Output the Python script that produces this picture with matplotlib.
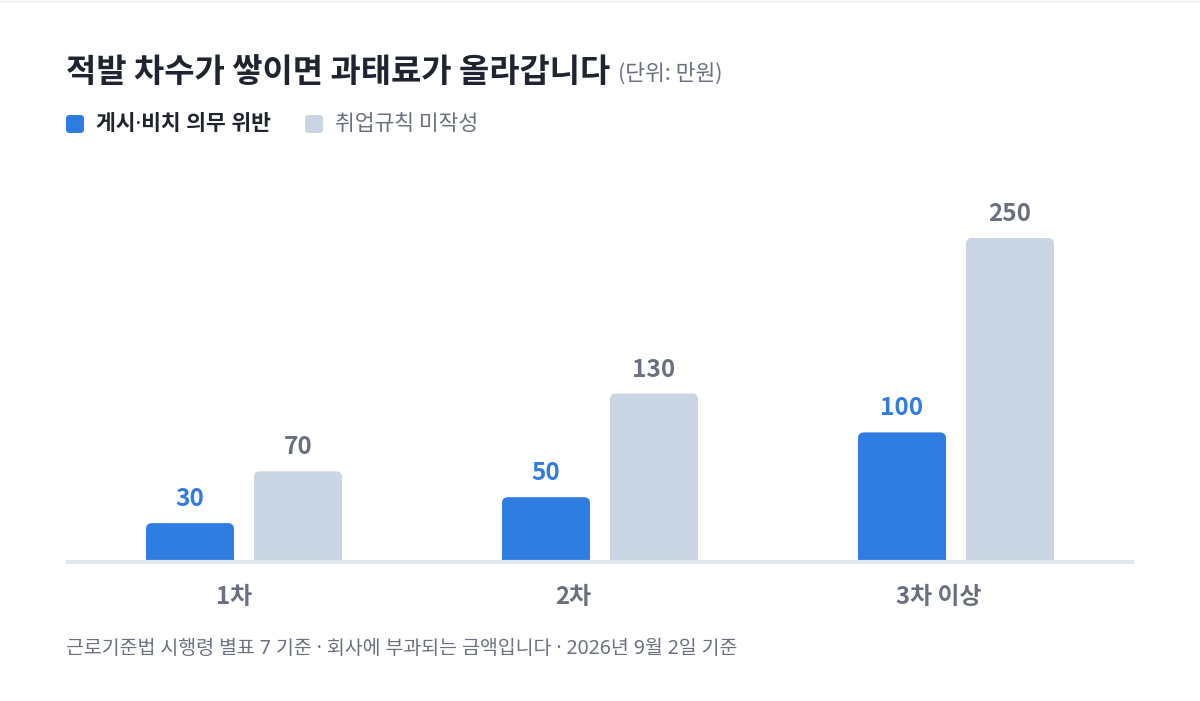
import numpy as np
import matplotlib
matplotlib.use("Agg")
import matplotlib.pyplot as plt
from matplotlib.patches import FancyBboxPatch
from matplotlib.lines import Line2D

plt.rcParams['font.family'] = ['Noto Sans CJK KR', 'DejaVu Sans']
# narrow middle dot comes from Noto Sans (regular only)
DOT_FAM = ['Noto Sans', 'Noto Sans CJK KR', 'DejaVu Sans']

# data (단위: 만원)
categories = ["1차", "2차", "3차 이상"]
posting = [30, 50, 100]        # 게시·비치 의무 위반
rules = [70, 130, 250]         # 취업규칙 미작성
series_names = ["게시·비치 의무 위반", "취업규칙 미작성"]

title = "적발 차수가 쌓이면 과태료가 올라갑니다"
unit = "(단위: 만원)"
footer = "근로기준법 시행령 별표 7 기준 · 회사에 부과되는 금액입니다 · 2026년 9월 2일 기준"

BLUE = "#2f7de1"
GRAY_BAR = "#cad5e3"
DARK = "#1f2430"
GRAY_TXT = "#6b7080"
LINE = "#e2e6ee"

W, H = 1200, 701
fig = plt.figure(figsize=(W / 100, H / 100), dpi=100)
fig.patch.set_facecolor("white")

def fy(px):
    return 1 - px / H

def fx(px):
    return px / W

# axes: baseline at y=562px, x from 66 to 1134 px
ax_top, ax_bot = 160, 562
ax = fig.add_axes([fx(66), fy(ax_bot), fx(1134 - 66), (ax_bot - ax_top) / H])
px_per_unit = 324 / 250.0
ax.set_ylim(0, (ax_bot - ax_top) / px_per_unit)
ax.set_xlim(-0.5, 2.5)
ax.axis("off")

x = np.arange(len(categories))
bw = 88 / 356.0
off = 54 / 356.0

b1 = ax.bar(x - off, posting, bw, color=BLUE)
b2 = ax.bar(x + off, rules, bw, color=GRAY_BAR)

# swap the plain bars for rounded-top ones
r = 6 / 356.0
aspect = 356.0 / px_per_unit
for bars in (b1, b2):
    for b in bars:
        bx, bwid, bh = b.get_x(), b.get_width(), b.get_height()
        fc = b.get_facecolor()
        b.remove()
        ax.add_patch(FancyBboxPatch((bx, -10), bwid, bh + 10,
                                    boxstyle=f"round,pad=0,rounding_size={r}",
                                    mutation_aspect=aspect, fc=fc, ec="none", zorder=2))

ax.axhline(0, color=LINE, lw=3, zorder=3, clip_on=False, solid_capstyle="butt")

for xi, v in zip(x, posting):
    ax.annotate(str(v), (xi - off, v), xytext=(0, 17), textcoords="offset pixels",
                ha="center", va="baseline", fontsize=17.5, fontweight="bold", color=BLUE)
for xi, v in zip(x, rules):
    ax.annotate(str(v), (xi + off, v), xytext=(0, 17), textcoords="offset pixels",
                ha="center", va="baseline", fontsize=17.5, fontweight="bold", color=GRAY_TXT)

# category labels sit a little left of the group centre in the original
label_nudge = [-10, -27, -17]  # px
for xi, c, dx in zip(x, categories, label_nudge):
    ax.annotate(c, (xi, 0), xytext=(dx, -35), textcoords="offset pixels",
                ha="center", va="center", fontsize=17.2, fontweight="bold", color=GRAY_TXT)

# title
t = fig.text(fx(66), fy(82), title, fontsize=23.7, fontweight="bold", color=DARK, va="baseline")
fig.canvas.draw()
bb = t.get_window_extent()
fig.text((bb.x1 + 8) / W, fy(80), unit, fontsize=15.5, color=GRAY_TXT, va="baseline")

# legend
ax_in = fig.dpi_scale_trans
fig.add_artist(FancyBboxPatch((0.66, (H - 133) / 100), 0.18, 0.18,
                              boxstyle="round,pad=0,rounding_size=0.035",
                              transform=ax_in, fc=BLUE, ec="none"))
fig.text(fx(96), fy(124), series_names[0], fontsize=15.5, fontweight="bold",
         color=DARK, va="center", family=DOT_FAM)
fig.add_artist(FancyBboxPatch((3.05, (H - 133) / 100), 0.18, 0.18,
                              boxstyle="round,pad=0,rounding_size=0.035",
                              transform=ax_in, fc=GRAY_BAR, ec="none"))
fig.text(fx(335), fy(124), series_names[1], fontsize=15.5, fontweight="medium",
         color=GRAY_TXT, va="center")

# footer
fig.text(fx(66), fy(649), footer, fontsize=14, color=GRAY_TXT, va="center", family=DOT_FAM)

# faint card edges
fig.add_artist(Line2D([0, 1], [fy(0.5), fy(0.5)], color="#e6e8ec", lw=1, transform=fig.transFigure))
fig.add_artist(Line2D([0, 1], [fy(700.5), fy(700.5)], color="#e6e8ec", lw=1, transform=fig.transFigure))

fig.savefig("out.png", dpi=100, facecolor="white")
